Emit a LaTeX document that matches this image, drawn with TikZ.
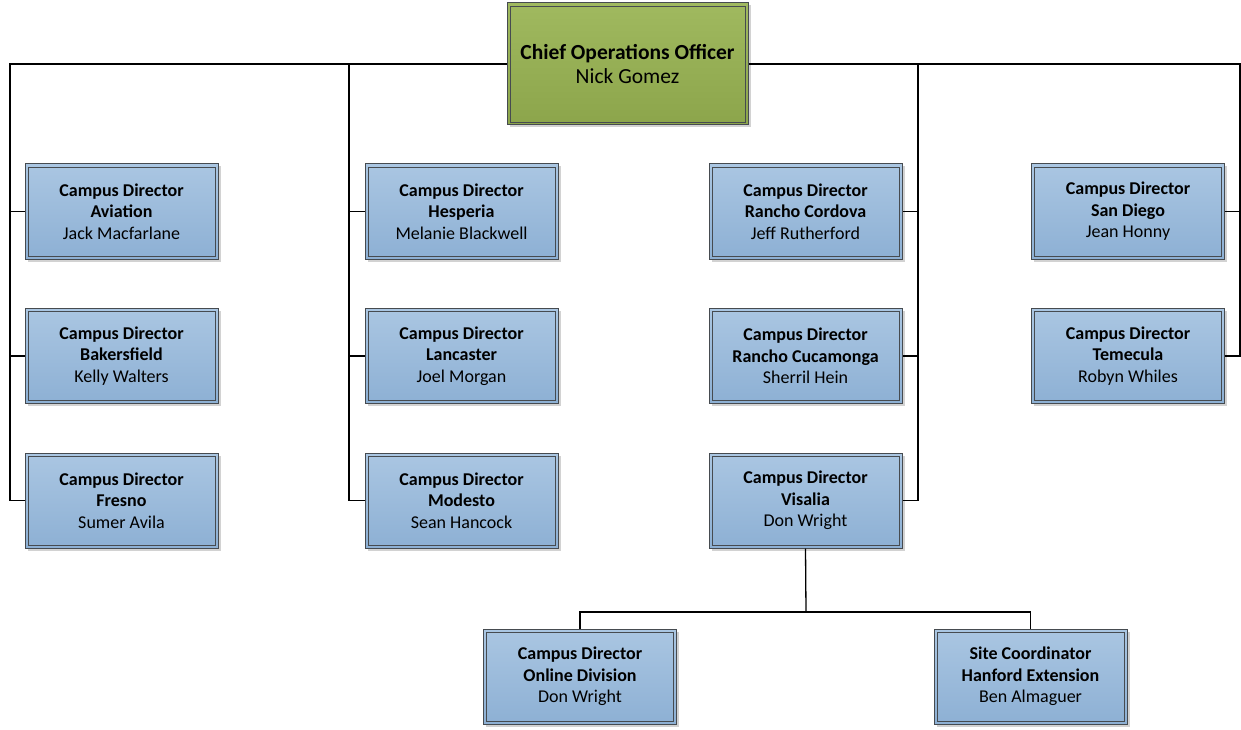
\documentclass[tikz,border=0pt]{standalone}
\usepackage{fontspec}
\setmainfont{Carlito}
\usetikzlibrary{shadows}
\definecolor{bluetop}{RGB}{170,198,226}
\definecolor{bluebot}{RGB}{141,176,212}
\definecolor{greentop}{RGB}{160,185,95}
\definecolor{greenbot}{RGB}{140,165,75}
\definecolor{edgegray}{RGB}{70,75,80}
\tikzset{
  box/.style={draw=edgegray, line width=1pt, minimum width=193pt, minimum height=95pt,
    inner sep=0pt, align=center, top color=bluetop, bottom color=bluebot,
    font=\fontsize{18}{21.5}\selectfont,
    drop shadow={shadow xshift=2.5pt, shadow yshift=-2.5pt, opacity=0.35, fill=gray},
    path picture={\draw[edgegray, line width=0.8pt]
      ([shift={(3pt,-3pt)}]path picture bounding box.north west) rectangle
      ([shift={(-3pt,3pt)}]path picture bounding box.south east);}},
  topbox/.style={box, minimum width=241pt, minimum height=122pt,
    top color=greentop, bottom color=greenbot, font=\fontsize{21.5}{24.5}\selectfont},
  conn/.style={draw=black, line width=1.3pt}
}
\newcommand{\bx}[3]{\textbf{#1}\\\textbf{#2}\\#3}
\begin{document}
\begin{tikzpicture}[x=1pt,y=-1pt]
\useasboundingbox[fill=white] (0,0) rectangle (1241,730);
% coordinates
\coordinate (cL) at (10,64);
\coordinate (c2) at (349,64);
\coordinate (c3) at (918,64);
\coordinate (cR) at (1240,64);
\coordinate (vb) at (806,612);
% boxes
\node[topbox] (coo) at (627.5,64) {\textbf{Chief Operations Officer}\\Nick Gomez};
\node[box] (avi) at (121.5,211.5) {\bx{Campus Director}{Aviation}{Jack Macfarlane}};
\node[box] (bak) at (121.5,356) {\bx{Campus Director}{Bakersfield}{Kelly Walters}};
\node[box] (fre) at (121.5,500.5) {\bx{Campus Director}{Fresno}{Sumer Avila}};
\node[box] (hes) at (461.5,211.5) {\bx{Campus Director}{Hesperia}{Melanie Blackwell}};
\node[box] (lan) at (461.5,356) {\bx{Campus Director}{Lancaster}{Joel Morgan}};
\node[box] (mod) at (461.5,500.5) {\bx{Campus Director}{Modesto}{Sean Hancock}};
\node[box] (rco) at (805.5,211.5) {\bx{Campus Director}{Rancho Cordova}{Jeff Rutherford}};
\node[box] (rcu) at (805.5,356) {\bx{Campus Director}{Rancho Cucamonga}{Sherril Hein}};
\node[box] (vis) at (805.5,500.5) {\bx{Campus Director}{Visalia}{Don Wright}};
\node[box] (sdi) at (1128,211.5) {\bx{Campus Director}{San Diego}{Jean Honny}};
\node[box] (tem) at (1128,356) {\bx{Campus Director}{Temecula}{Robyn Whiles}};
\node[box] (onl) at (580,676.5) {\bx{Campus Director}{Online Division}{Don Wright}};
\node[box] (han) at (1030.5,676.5) {\bx{Site Coordinator}{Hanford Extension}{Ben Almaguer}};
% connectors
\draw[conn] (coo.west) -- (cL) |- (fre.west);
\draw[conn] (cL |- avi.west) -- (avi.west);
\draw[conn] (cL |- bak.west) -- (bak.west);
\draw[conn] (c2) |- (mod.west);
\draw[conn] (c2 |- hes.west) -- (hes.west);
\draw[conn] (c2 |- lan.west) -- (lan.west);
\draw[conn] (coo.east) -- (cR) |- (tem.east);
\draw[conn] (cR |- sdi.east) -- (sdi.east);
\draw[conn] (c3) |- (vis.east);
\draw[conn] (c3 |- rco.east) -- (rco.east);
\draw[conn] (c3 |- rcu.east) -- (rcu.east);
\draw[conn] (vis.south) -- (vb);
\draw[conn] (onl.north) |- (vb) -| (han.north);
\end{tikzpicture}
\end{document}
